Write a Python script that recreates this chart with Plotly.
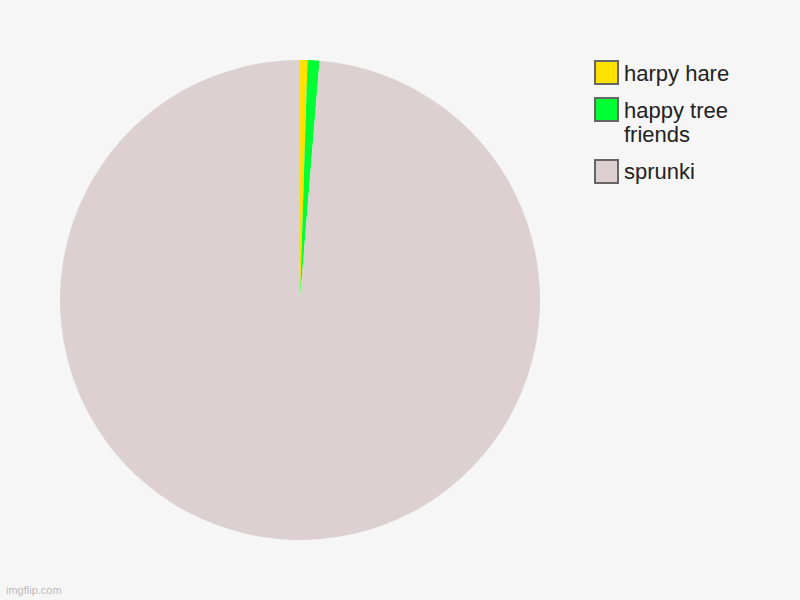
import plotly.graph_objects as go

labels = ['harpy hare', 'happy tree friends', 'sprunki']
legend_lines = [['harpy hare'], ['happy tree', 'friends'], ['sprunki']]
values = [0.5, 0.8, 98.7]
colors = ['#FFE100', '#00FF33', '#DDD0D0']

fig = go.Figure(go.Pie(
    labels=labels, values=values,
    marker=dict(colors=colors, line=dict(width=0)),
    sort=False, direction='clockwise', rotation=0,
    textinfo='none', hoverinfo='label+value',
    domain=dict(x=[0.075, 0.675], y=[0.1, 0.9]),
    showlegend=False,
))

# custom legend with larger boxes
box_tops = [61, 98, 160]
for lines, col, top in zip(legend_lines, colors, box_tops):
    fig.add_shape(type='rect', xref='paper', yref='paper',
                  x0=595/800, x1=618/800, y0=1-(top+23)/600, y1=1-top/600,
                  fillcolor=col, line=dict(color='#666666', width=2))
    for i, txt in enumerate(lines):
        fig.add_annotation(text=txt, xref='paper', yref='paper',
                           x=622/800, y=1-(top+12+24*i)/600,
                           xanchor='left', yanchor='middle',
                           showarrow=False, align='left',
                           font=dict(size=22, color='#222222'))

fig.add_annotation(text='imgflip.com', xref='paper', yref='paper',
                   x=4/800, y=2/600, xanchor='left', yanchor='bottom',
                   showarrow=False, font=dict(size=11, color='#BBBBBB'))

fig.update_layout(
    width=800, height=600,
    margin=dict(l=0, r=0, t=0, b=0),
    paper_bgcolor='#F6F6F6', plot_bgcolor='#F6F6F6',
    font=dict(family='Liberation Sans, Arial, sans-serif'),
)

fig.write_html("out.html", config={'displayModeBar': False},
               post_script="document.body.style.margin='0';")
